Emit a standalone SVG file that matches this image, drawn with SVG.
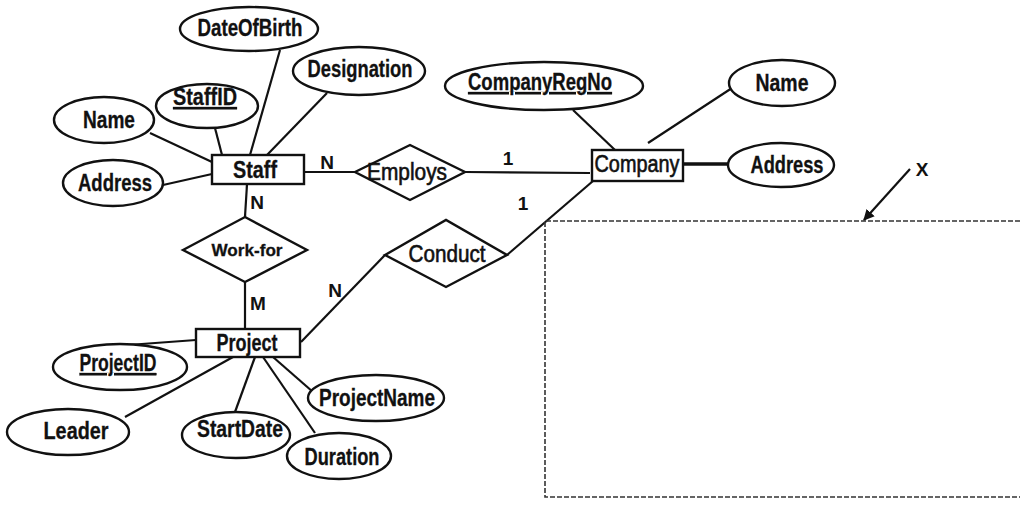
<svg xmlns="http://www.w3.org/2000/svg" width="1020" height="505" viewBox="0 0 1020 505">
<defs>
<style>
.bg{fill:#ffffff}
.shape{fill:#ffffff;stroke:#111;stroke-width:2.4}
.ln{stroke:#111;stroke-width:2.2;fill:none}
.thick{stroke:#111;stroke-width:3.6;fill:none}
.dash{stroke:#333;stroke-width:1.6;fill:none;stroke-dasharray:5 2}
.t{font-family:"Liberation Sans",Arial,sans-serif;font-size:23px;font-weight:700;fill:#111;stroke:#111;stroke-width:0.3;text-anchor:middle}
.tn{font-family:"Liberation Sans",Arial,sans-serif;font-size:23px;font-weight:400;fill:#111;stroke:#111;stroke-width:0.6;text-anchor:middle}
.ts{font-family:"Liberation Sans",Arial,sans-serif;font-size:17px;font-weight:700;fill:#111;stroke:#111;stroke-width:0.3;text-anchor:middle}
.lbl{font-family:"Liberation Sans",Arial,sans-serif;font-size:19px;font-weight:700;fill:#111;text-anchor:middle}
.u{text-decoration:underline}
</style>
<marker id="arr" viewBox="0 0 10 10" refX="9" refY="5" markerWidth="5" markerHeight="5" orient="auto">
<path d="M0,0 L10,5 L0,10 z" fill="#111"/>
</marker>
</defs>
<rect class="bg" x="0" y="0" width="1020" height="505"/>

<g id="connectors">
<line class="ln" x1="250" y1="155" x2="280" y2="50"/>
<line class="ln" x1="222" y1="155" x2="215" y2="128"/>
<line class="ln" x1="267" y1="155" x2="327" y2="93"/>
<line class="ln" x1="212" y1="162" x2="150" y2="133"/>
<line class="ln" x1="212" y1="174" x2="163" y2="185"/>
<line class="ln" x1="304" y1="172" x2="355" y2="172"/>
<line class="ln" x1="465" y1="172" x2="590" y2="173"/>
<line class="ln" x1="573" y1="110" x2="615" y2="150"/>
<line class="ln" x1="648" y1="143" x2="732" y2="88"/>
<line class="thick" x1="683" y1="164" x2="728" y2="164"/>
<line class="ln" x1="593" y1="181" x2="507" y2="255"/>
<line class="ln" x1="247" y1="184" x2="245" y2="217"/>
<line class="ln" x1="245" y1="282" x2="245" y2="329"/>
<line class="ln" x1="385" y1="255" x2="301" y2="342"/>
<line class="ln" x1="196" y1="340" x2="128" y2="345"/>
<line class="ln" x1="233" y1="357" x2="125" y2="417"/>
<line class="ln" x1="255" y1="357" x2="235" y2="412"/>
<line class="ln" x1="263" y1="357" x2="315" y2="433"/>
<line class="ln" x1="273" y1="357" x2="313" y2="392"/>
<line class="ln" x1="910" y1="169" x2="864" y2="220" marker-end="url(#arr)"/>
</g>

<g id="labels">
<text class="lbl" x="327" y="169">N</text>
<text class="lbl" x="508" y="165">1</text>
<text class="lbl" x="523" y="210">1</text>
<text class="lbl" x="257" y="209">N</text>
<text class="lbl" x="258" y="310">M</text>
<text class="lbl" x="335" y="297">N</text>
<text class="lbl" x="922" y="176">X</text>
</g>

<g id="staff">
<rect class="shape" x="212" y="155" width="92" height="29"/>
<text class="t" x="255" y="178" textLength="44" lengthAdjust="spacingAndGlyphs">Staff</text>
</g>
<g id="company">
<rect class="shape" x="592" y="150" width="91" height="31"/>
<text class="tn" x="637" y="172" textLength="85" lengthAdjust="spacingAndGlyphs">Company</text>
</g>
<g id="project">
<rect class="shape" x="196" y="329" width="104" height="28"/>
<text class="t" x="247" y="351" textLength="61" lengthAdjust="spacingAndGlyphs">Project</text>
</g>

<g id="employs">
<polygon class="shape" points="355,172 410,145 465,172 410,200"/>
<text class="tn" x="407" y="180" textLength="80" lengthAdjust="spacingAndGlyphs">Employs</text>
</g>
<g id="workfor">
<polygon class="shape" points="183,250 245,217 307,250 245,282"/>
<text class="ts" x="247" y="256" textLength="71" lengthAdjust="spacingAndGlyphs">Work-for</text>
</g>
<g id="conduct">
<polygon class="shape" points="385,255 446,220 507,255 446,287"/>
<text class="tn" x="447" y="262" textLength="77" lengthAdjust="spacingAndGlyphs">Conduct</text>
</g>

<g id="staff-dateofbirth">
<ellipse class="shape" cx="249" cy="29" rx="69" ry="22"/>
<text class="t" x="250" y="36" textLength="105" lengthAdjust="spacingAndGlyphs">DateOfBirth</text>
</g>
<g id="staff-staffid">
<ellipse class="shape" cx="207" cy="106" rx="51" ry="22"/>
<text class="t u" x="205" y="105" textLength="64" lengthAdjust="spacingAndGlyphs">StaffID</text>
</g>
<g id="staff-name">
<ellipse class="shape" cx="104" cy="120" rx="50" ry="23"/>
<text class="t" x="109" y="128" textLength="52" lengthAdjust="spacingAndGlyphs">Name</text>
</g>
<g id="staff-address">
<ellipse class="shape" cx="113" cy="183" rx="50" ry="23"/>
<text class="t" x="115" y="191" textLength="74" lengthAdjust="spacingAndGlyphs">Address</text>
</g>
<g id="staff-designation">
<ellipse class="shape" cx="359" cy="71" rx="66" ry="24"/>
<text class="t" x="360" y="77" textLength="105" lengthAdjust="spacingAndGlyphs">Designation</text>
</g>
<g id="company-companyregno">
<ellipse class="shape" cx="544" cy="86" rx="99" ry="24"/>
<text class="t u" x="540" y="90" textLength="144" lengthAdjust="spacingAndGlyphs">CompanyRegNo</text>
</g>
<g id="company-name">
<ellipse class="shape" cx="782" cy="83" rx="53" ry="23"/>
<text class="t" x="782" y="91" textLength="53" lengthAdjust="spacingAndGlyphs">Name</text>
</g>
<g id="company-address">
<ellipse class="shape" cx="781" cy="165" rx="53" ry="22"/>
<text class="t" x="787" y="173" textLength="73" lengthAdjust="spacingAndGlyphs">Address</text>
</g>
<g id="project-projectid">
<ellipse class="shape" cx="120" cy="367" rx="67" ry="23"/>
<text class="t u" x="118" y="371" textLength="77" lengthAdjust="spacingAndGlyphs">ProjectID</text>
</g>
<g id="project-leader">
<ellipse class="shape" cx="68" cy="432" rx="61" ry="23"/>
<text class="t" x="76" y="439" textLength="65" lengthAdjust="spacingAndGlyphs">Leader</text>
</g>
<g id="project-startdate">
<ellipse class="shape" cx="236" cy="435" rx="54" ry="23"/>
<text class="t" x="240" y="437" textLength="86" lengthAdjust="spacingAndGlyphs">StartDate</text>
</g>
<g id="project-duration">
<ellipse class="shape" cx="339" cy="456" rx="52" ry="23"/>
<text class="t" x="342" y="465" textLength="75" lengthAdjust="spacingAndGlyphs">Duration</text>
</g>
<g id="project-projectname">
<ellipse class="shape" cx="376" cy="398" rx="68" ry="23"/>
<text class="t" x="377" y="406" textLength="116" lengthAdjust="spacingAndGlyphs">ProjectName</text>
</g>

<g id="box-x">
<polyline class="dash" points="1020,221 545,221 545,497 1020,497"/>
</g>
</svg>
